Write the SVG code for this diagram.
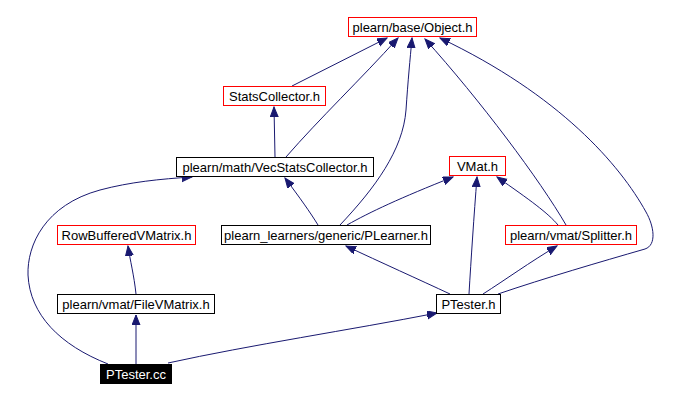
<svg xmlns="http://www.w3.org/2000/svg" width="692" height="401" viewBox="0 0 692 401">
<style>
.n rect{fill:#fff;stroke:#000;stroke-width:1}
.n.r rect{stroke:#ff0000}
.n text{font-family:"Liberation Sans",Arial,Helvetica,sans-serif;font-size:13px;fill:#000;text-anchor:middle}
.n.k rect{fill:#000;stroke:#000}
.n.k text{fill:#fff}
.e path{fill:none;stroke:#191970;stroke-width:1;marker-end:url(#a)}
</style>
<defs>
<marker id="a" markerUnits="userSpaceOnUse" markerWidth="11" markerHeight="9" refX="10" refY="4" orient="auto">
<path d="M0,0 L10,4 L0,8 z" fill="#191970" stroke="#191970" stroke-width="1"/>
</marker>
</defs>
<rect width="692" height="401" fill="#fff"/>
<g id="edges" class="e">
<path d="M292,86 L387,38"/>
<path d="M286,157 C320,118 360,80 398,38"/>
<path d="M340,225 C375,188 403,150 406,110 C408,80 410,60 412,38"/>
<path d="M566,225 C540,180 480,100 425,39"/>
<path d="M498,294 C545,278 600,262 645,249 C657,245 654,226 646,212 C620,165 560,95 440,38"/>
<path d="M347,225 C370,212 400,198 453,177"/>
<path d="M318,225 C310,212 300,198 285,178"/>
<path d="M469,294 C471,260 474,215 477,177"/>
<path d="M558,225 C548,213 530,200 497,177"/>
<path d="M483,294 C505,280 530,262 557,246"/>
<path d="M450,294 C420,280 380,262 346,246"/>
<path d="M275,157 L274,107"/>
<path d="M108,364 C60,345 30,315 28,275 C27,245 45,205 100,190 C130,182 160,179 192,177"/>
<path d="M136,364 L136,315"/>
<path d="M136,294 C134,275 130,260 128,246"/>
<path d="M168,363 C250,345 350,330 437,313"/>
</g>
<g id="object" class="n r"><rect x="348.5" y="17.5" width="128" height="19"/><text x="412.5" y="32">plearn/base/Object.h</text></g>
<g id="statscollector" class="n r"><rect x="223.5" y="86.5" width="102" height="19"/><text x="274.5" y="101">StatsCollector.h</text></g>
<g id="vecstatscollector" class="n"><rect x="176.5" y="157.5" width="197" height="19"/><text x="275" y="172">plearn/math/VecStatsCollector.h</text></g>
<g id="vmat" class="n r"><rect x="449.5" y="156.5" width="56" height="19"/><text x="477.5" y="171">VMat.h</text></g>
<g id="splitter" class="n r"><rect x="505.5" y="225.5" width="131" height="19"/><text x="571" y="240">plearn/vmat/Splitter.h</text></g>
<g id="plearner" class="n"><rect x="221.5" y="225.5" width="209" height="19"/><text x="326" y="240">plearn_learners/generic/PLearner.h</text></g>
<g id="rowbuffered" class="n r"><rect x="57.5" y="225.5" width="138" height="19"/><text x="126.5" y="240">RowBufferedVMatrix.h</text></g>
<g id="filevmatrix" class="n"><rect x="57.5" y="294.5" width="157" height="19"/><text x="136" y="309">plearn/vmat/FileVMatrix.h</text></g>
<g id="ptester_h" class="n"><rect x="436.5" y="294.5" width="64" height="19"/><text x="468.5" y="309">PTester.h</text></g>
<g id="ptester_cc" class="n k"><rect x="100.5" y="364.5" width="71" height="19"/><text x="136" y="379">PTester.cc</text></g>
</svg>
